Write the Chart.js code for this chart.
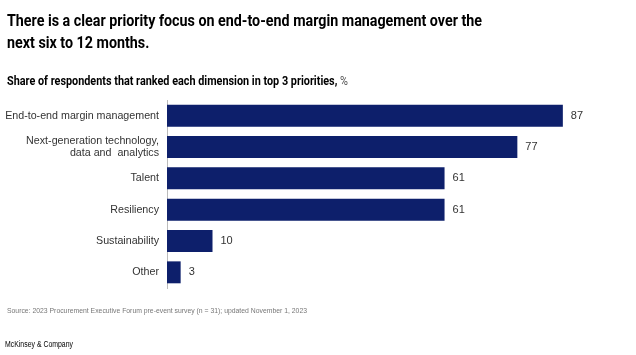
<!DOCTYPE html>
<html><head><meta charset="utf-8">
<script src="https://cdn.jsdelivr.net/npm/chart.js@4.4.0/dist/chart.umd.min.js"></script>
<style>
html,body{margin:0;padding:0;background:#fff;}
#wrap{position:relative;width:636px;height:355px;overflow:hidden;}
canvas{position:absolute;left:0;top:0;}
.t{position:absolute;left:7px;white-space:nowrap;transform-origin:0 0;color:#000;}
#title1,#title2{font:bold 17px Roboto,"Liberation Sans",Arial,sans-serif;line-height:20px;}
#title1{top:10px;}
#title2{top:32px;}
#sub{top:73px;font:bold 13px Roboto,"Liberation Sans",Arial,sans-serif;line-height:16px;}
#sub span{font-weight:normal;color:#555;}
#src{top:306px;font:8px "Liberation Sans",Arial,sans-serif;color:#777;}
#mck{top:339px;left:5px;font:8.5px "Liberation Sans",Arial,sans-serif;color:#000;}
</style></head>
<body><div id="wrap">
<canvas id="c" width="636" height="355"></canvas>
<div class="t" id="title1" data-w="475">There is a clear priority focus on end-to-end margin management over the</div>
<div class="t" id="title2">next six to 12 months.</div>
<div class="t" id="sub" data-w="341">Share of respondents that ranked each dimension in top 3 priorities, <span>%</span></div>
<div class="t" id="src" data-w="300">Source: 2023 Procurement Executive Forum pre-event survey (n = 31); updated November 1, 2023</div>
<div class="t" id="mck" data-w="68">McKinsey &amp; Company</div>
</div>
<script>
const categories = [
  "End-to-end margin management",
  ["Next-generation technology,", "data and  analytics"],
  "Talent",
  "Resiliency",
  "Sustainability",
  "Other"
];
const values = [87, 77, 61, 61, 10, 3];

// fit text widths
let s1 = 1;
document.querySelectorAll('[data-w]').forEach(el=>{
  const w = el.getBoundingClientRect().width;
  const s = parseFloat(el.dataset.w)/w;
  el.style.transform = 'scaleX('+s+')';
  if(el.id==='title1') s1 = s;
});
document.getElementById('title2').style.transform='scaleX('+s1+')';

const valueLabels = {
  id:'valueLabels',
  afterDatasetsDraw(chart){
    const ctx = chart.ctx;
    const meta = chart.getDatasetMeta(0);
    ctx.save();
    ctx.font = '11px "Liberation Sans", Arial, sans-serif';
    ctx.fillStyle = '#333';
    ctx.textBaseline = 'middle';
    ctx.textAlign = 'left';
    meta.data.forEach((bar,i)=>{
      ctx.fillText(String(values[i]), bar.x + 8, bar.y);
    });
    ctx.restore();
  }
};

new Chart(document.getElementById('c'), {
  type:'bar',
  data:{labels:categories, datasets:[{data:values, backgroundColor:'#0d1f6b', borderWidth:0, barPercentage:0.7, categoryPercentage:1}]},
  options:{
    indexAxis:'y', responsive:false, animation:false,
    layout:{padding:{top:100,bottom:67,left:0,right:14}},
    plugins:{legend:{display:false}, tooltip:{enabled:false}},
    scales:{
      x:{display:false, min:0, max:100},
      y:{
        afterFit(scale){ scale.width = 167; },
        grid:{display:false, drawTicks:false},
        border:{display:true, color:'#bbb', width:1},
        ticks:{padding:8, color:'#333', font:{family:'"Liberation Sans", Arial, sans-serif', size:10.7, lineHeight:1.15}}
      }
    }
  },
  plugins:[valueLabels]
});
</script>
</body></html>
